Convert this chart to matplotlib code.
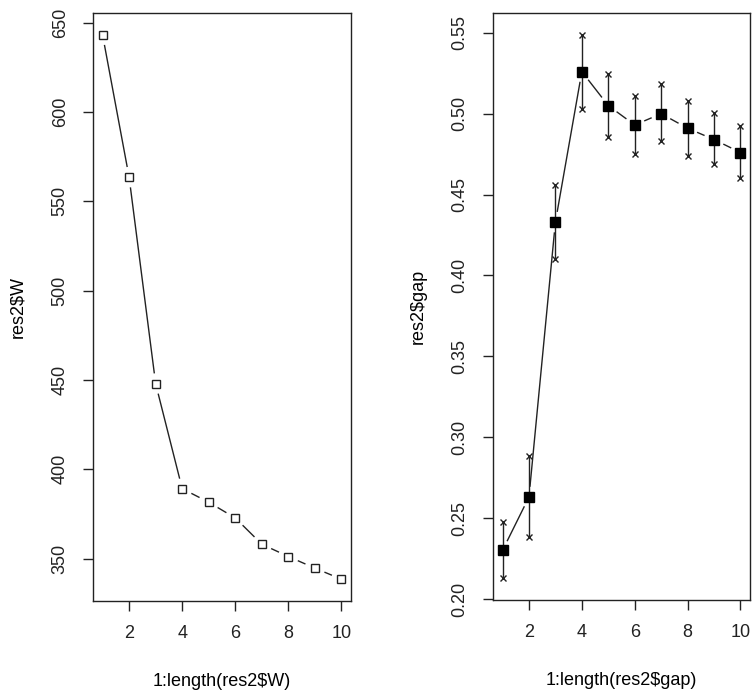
import numpy as np
import matplotlib
matplotlib.use("Agg")
import matplotlib.pyplot as plt

plt.rcParams["font.family"] = ["Liberation Sans", "DejaVu Sans"]

# values
k = np.arange(1, 11)
W = [643.2, 563.5, 447.9, 389.1, 381.5, 372.7, 358.0, 351.1, 344.6, 338.4]
gap = [0.230, 0.263, 0.433, 0.526, 0.505, 0.493, 0.500, 0.491, 0.484, 0.476]
gap_hi = [0.2475, 0.2883, 0.456, 0.5488, 0.5245, 0.5111, 0.5183, 0.5078, 0.5002, 0.4924]
gap_lo = [0.2128, 0.2385, 0.4099, 0.5029, 0.4854, 0.4751, 0.4830, 0.4741, 0.4688, 0.4601]

x_ticks = [2, 4, 6, 8, 10]
w_ticks = [350, 400, 450, 500, 550, 600, 650]
g_ticks = [0.20, 0.25, 0.30, 0.35, 0.40, 0.45, 0.50, 0.55]
g_ticklabels = ["0.20", "0.25", "0.30", "0.35", "0.40", "0.45", "0.50", "0.55"]

FS = 13
GAP_PX = 11


def gapped_line(ax, x, y, gap_px=GAP_PX, **kw):
    # R's type="b": segments stop short of each point
    pts = ax.transData.transform(np.column_stack([x, y]))
    inv = ax.transData.inverted()
    for p0, p1 in zip(pts[:-1], pts[1:]):
        d = p1 - p0
        L = np.hypot(*d)
        if L <= 2 * gap_px:
            continue
        u = d / L
        a = inv.transform(p0 + u * gap_px)
        b = inv.transform(p1 - u * gap_px)
        ax.plot([a[0], b[0]], [a[1], b[1]], **kw)


def style_axes(ax):
    for s in ax.spines.values():
        s.set_linewidth(1.0)
        s.set_color("#222222")
    ax.tick_params(direction="out", length=7.5, width=1.0, labelsize=FS,
                   colors="#222222", pad=10)
    ax.tick_params(axis="y", labelrotation=90)
    for lab in ax.get_yticklabels():
        lab.set_va("center")


fig = plt.figure(figsize=(7.56, 6.96), dpi=100)
ax1 = fig.add_axes([93 / 756, 95 / 696, 258 / 756, 588 / 696])
ax2 = fig.add_axes([493 / 756, 96 / 696, 257 / 756, 587 / 696])

# left panel
ax1.set_xlim(0.64, 10.36)
lo, hi = min(W), max(W)
pad = 0.04 * (hi - lo)
ax1.set_ylim(lo - pad, hi + pad)
ax1.set_xticks(x_ticks)
ax1.set_yticks(w_ticks)
style_axes(ax1)
gapped_line(ax1, k, W, color="#222222", lw=1.0)
ax1.plot(k, W, ls="none", marker="s", ms=6.0, mfc="white", mec="#222222", mew=1.0)
ax1.set_xlabel(r"1:length(res2\$W)", fontsize=FS, labelpad=22)
ax1.set_ylabel(r"res2\$W", fontsize=FS, labelpad=18)

# right panel
ax2.set_xlim(0.64, 10.36)
lo, hi = min(gap_lo), max(gap_hi)
pad = 0.04 * (hi - lo)
ax2.set_ylim(lo - pad, hi + pad)
ax2.set_xticks(x_ticks)
ax2.set_yticks(g_ticks)
ax2.set_yticklabels(g_ticklabels)
style_axes(ax2)
gapped_line(ax2, k, gap, color="#222222", lw=1.0)
ax2.vlines(k, gap_lo, gap_hi, color="#222222", lw=1.0)
ax2.plot(k, gap_hi, ls="none", marker="x", ms=5, mec="#222222", mew=1.0)
ax2.plot(k, gap_lo, ls="none", marker="x", ms=5, mec="#222222", mew=1.0)
ax2.plot(k, gap, ls="none", marker="s", ms=6.5, mfc="black", mec="black")
ax2.set_xlabel(r"1:length(res2\$gap)", fontsize=FS, labelpad=22)
ax2.set_ylabel(r"res2\$gap", fontsize=FS, labelpad=18)

fig.savefig("out.png", dpi=100)
